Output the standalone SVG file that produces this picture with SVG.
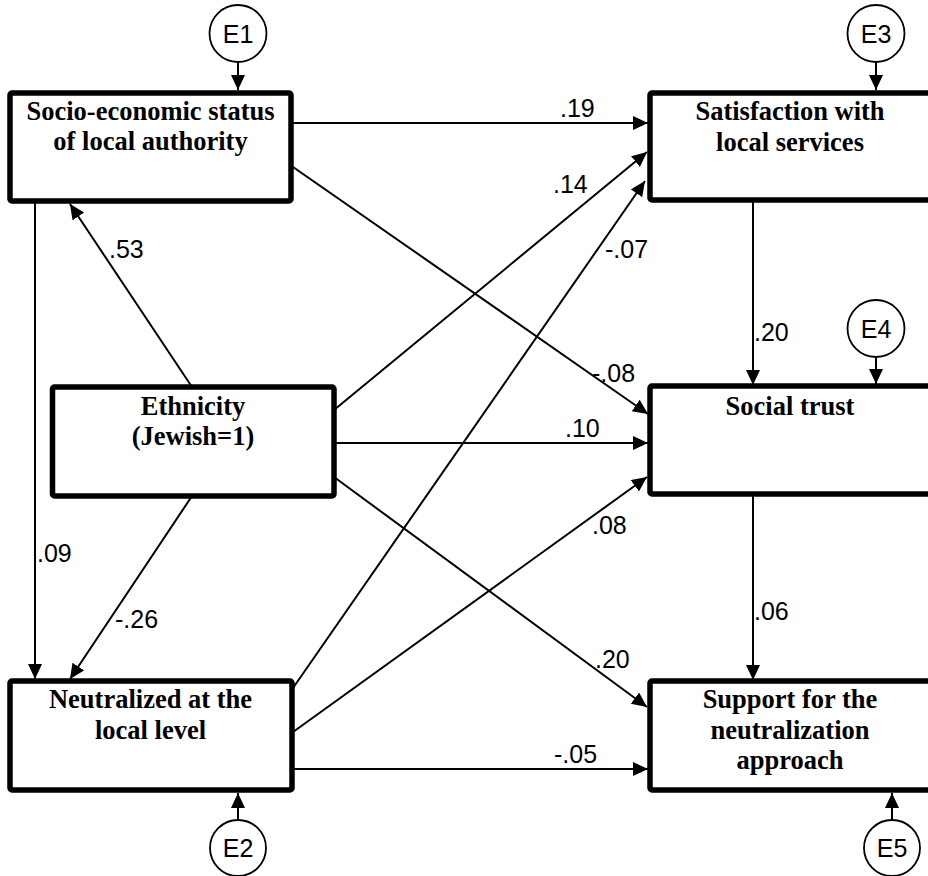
<svg xmlns="http://www.w3.org/2000/svg" width="928" height="876" viewBox="0 0 928 876">
<style>
.box{fill:#fff;stroke:#000;stroke-width:5.5}
.nt{font-family:"Liberation Serif","Times New Roman",serif;font-weight:bold;font-size:26.5px;text-anchor:middle;fill:#000}
.lbl{font-family:"Liberation Sans",Arial,sans-serif;font-size:25px;fill:#000}
.err{fill:#fff;stroke:#000;stroke-width:1.8}
.et{font-family:"Liberation Sans",Arial,sans-serif;font-size:25px;text-anchor:middle;fill:#000}
.c{stroke:#000;stroke-width:2;fill:none;marker-end:url(#ah)}
</style>
<defs>
<marker id="ah" markerUnits="userSpaceOnUse" markerWidth="16" markerHeight="15" refX="15" refY="7" orient="auto">
<path d="M0,0 L15,7 L0,14 z" fill="#000"/>
</marker>
</defs>
<g id="connectors">
<line class="c" x1="293" y1="123" x2="648" y2="123"/>
<line class="c" x1="293" y1="167" x2="648" y2="414"/>
<line class="c" x1="35" y1="201" x2="35" y2="679"/>
<line class="c" x1="192" y1="387" x2="70" y2="204"/>
<line class="c" x1="192" y1="496" x2="70" y2="679"/>
<line class="c" x1="334" y1="410" x2="647" y2="152"/>
<line class="c" x1="334" y1="443" x2="648" y2="443"/>
<line class="c" x1="334" y1="477" x2="647" y2="707"/>
<line class="c" x1="293" y1="688" x2="645" y2="181"/>
<line class="c" x1="293" y1="732" x2="647" y2="477"/>
<line class="c" x1="293" y1="769" x2="648" y2="769"/>
<line class="c" x1="753" y1="200" x2="753" y2="385"/>
<line class="c" x1="753" y1="494" x2="753" y2="680"/>
<line class="c" x1="238" y1="62" x2="238" y2="90"/>
<line class="c" x1="876" y1="62" x2="876" y2="90"/>
<line class="c" x1="876" y1="357" x2="876" y2="384"/>
<line class="c" x1="892" y1="820" x2="892" y2="793"/>
<line class="c" x1="238" y1="820" x2="238" y2="793"/>
<text class="lbl" x="560" y="117">.19</text>
<text class="lbl" x="553" y="193">.14</text>
<text class="lbl" x="605" y="258">-.07</text>
<text class="lbl" x="109" y="258">.53</text>
<text class="lbl" x="754" y="341">.20</text>
<text class="lbl" x="592" y="382">-.08</text>
<text class="lbl" x="565" y="437">.10</text>
<text class="lbl" x="592" y="534">.08</text>
<text class="lbl" x="37" y="562">.09</text>
<text class="lbl" x="115" y="628">-.26</text>
<text class="lbl" x="754" y="620">.06</text>
<text class="lbl" x="595" y="668">.20</text>
<text class="lbl" x="554" y="763">-.05</text>
</g>
<g id="ses">
<rect class="box" x="10" y="93" width="281" height="108" rx="2"/>
<text class="nt" x="150.5" y="120">Socio-economic status</text>
<text class="nt" x="150.5" y="150">of local authority</text>
</g>
<g id="ethnicity">
<rect class="box" x="52.5" y="387" width="281.5" height="109" rx="2"/>
<text class="nt" x="193" y="415">Ethnicity</text>
<text class="nt" x="193" y="445">(Jewish=1)</text>
</g>
<g id="neutralized">
<rect class="box" x="10" y="681" width="282" height="109" rx="2"/>
<text class="nt" x="150.5" y="708">Neutralized at the</text>
<text class="nt" x="150.5" y="739">local level</text>
</g>
<g id="satisfaction">
<rect class="box" x="650" y="93" width="285" height="107" rx="2"/>
<text class="nt" x="790" y="120">Satisfaction with</text>
<text class="nt" x="790" y="151">local services</text>
</g>
<g id="trust">
<rect class="box" x="650" y="386" width="285" height="108" rx="2"/>
<text class="nt" x="790" y="415">Social trust</text>
</g>
<g id="support">
<rect class="box" x="650" y="681" width="285" height="109" rx="2"/>
<text class="nt" x="790" y="708">Support for the</text>
<text class="nt" x="790" y="739">neutralization</text>
<text class="nt" x="790" y="769">approach</text>
</g>
<g id="e1"><circle class="err" cx="238" cy="33.5" r="28.5"/><text class="et" x="238" y="43">E1</text></g>
<g id="e3"><circle class="err" cx="876" cy="33.5" r="28.5"/><text class="et" x="876" y="43">E3</text></g>
<g id="e4"><circle class="err" cx="876" cy="328.5" r="28.5"/><text class="et" x="876" y="338">E4</text></g>
<g id="e2"><circle class="err" cx="238" cy="848" r="28"/><text class="et" x="238" y="857">E2</text></g>
<g id="e5"><circle class="err" cx="892" cy="848" r="28"/><text class="et" x="892" y="857">E5</text></g>
</svg>
